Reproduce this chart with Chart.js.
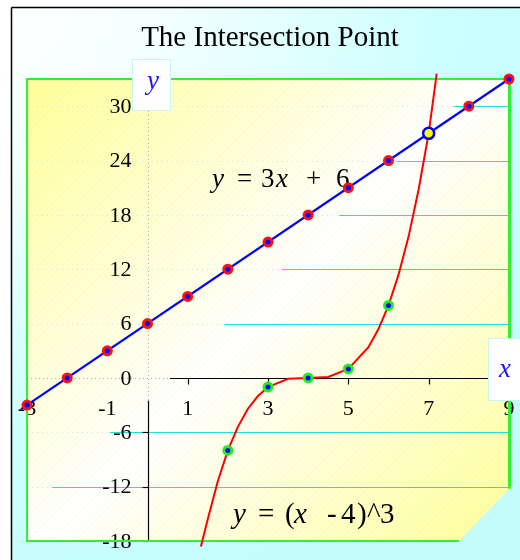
<!DOCTYPE html>
<html>
<head>
<meta charset="utf-8">
<title>The Intersection Point</title>
<script src="https://cdn.jsdelivr.net/npm/chart.js@4.4.1/dist/chart.umd.min.js"></script>
<style>
  html, body { margin: 0; padding: 0; background: #fff; }
  canvas { display: block; }
</style>
</head>
<body>
<canvas id="chart" width="520" height="560"></canvas>
<script>
// y = 3x + 6 (straight line, slightly past the end dots)
const lineEndsX = [-3.15, 9.1];
const lineEndsY = [-3.45, 33.3];
const lineDotsX = [-3, -2, -1, 0, 1, 2, 3, 4, 5, 6, 8, 9];
const lineDotsY = [-3, 0, 3, 6, 9, 12, 15, 18, 21, 24, 30, 33];

// y = (x - 4)^3
const curveX = [1.33, 1.5, 1.75, 2, 2.25, 2.5, 2.75, 3, 3.5, 4, 4.5, 5, 5.5, 5.75, 6, 6.25, 6.5, 6.75, 7, 7.2];
const curveY = [-18.6, -15.6, -11.4, -8, -5.4, -3.4, -2, -1, -0.1, 0, 0.1, 1, 3.4, 5.4, 8, 11.4, 15.6, 20.8, 27, 33.6];
const curveDotsX = [2, 3, 4, 5, 6];
const curveDotsY = [-8, -1, 0, 1, 8];

// intersection
const crossX = [7];
const crossY = [27];

const xTicks = [-3, -1, 1, 3, 5, 7, 9];
const yTicks = [-18, -12, -6, 0, 6, 12, 18, 24, 30];
const xMin = -3, xMax = 9;
const yMin = -18, yMax = 33;

const SERIF = '"Liberation Serif", "Times New Roman", serif';
const pts = (xs, ys) => xs.map((v, i) => ({ x: v, y: ys[i] }));

function drawTokens(ctx, tokens, baseline, size) {
  ctx.fillStyle = '#000';
  ctx.textAlign = 'left';
  ctx.textBaseline = 'alphabetic';
  tokens.forEach(([t, left, it]) => {
    ctx.font = (it ? 'italic ' : '') + size + 'px ' + SERIF;
    ctx.fillText(t, left, baseline);
  });
}

function line(ctx, x1, y1, x2, y2) {
  ctx.beginPath();
  ctx.moveTo(x1, y1);
  ctx.lineTo(x2, y2);
  ctx.stroke();
}

const decor = {
  id: 'decor',
  beforeDraw(chart) {
    const { ctx, chartArea: a, scales: { x, y } } = chart;
    const W = chart.width, H = chart.height;
    ctx.save();

    // outer frame
    ctx.fillStyle = '#fff';
    ctx.fillRect(0, 0, W, H);
    const bg = ctx.createRadialGradient(12, 8, 0, 12, 8, 620);
    bg.addColorStop(0, '#ffffff');
    bg.addColorStop(0.25, '#f2ffff');
    bg.addColorStop(0.7, '#ccffff');
    bg.addColorStop(1, '#c4fcfc');
    ctx.fillStyle = bg;
    ctx.fillRect(12, 8, W - 12, H - 8);
    ctx.strokeStyle = '#000';
    ctx.lineWidth = 1.5;
    line(ctx, 11.5, H, 11.5, 7.5);
    line(ctx, 11.5, 7.5, W, 7.5);

    // title
    ctx.fillStyle = '#000';
    ctx.font = '29px ' + SERIF;
    ctx.textAlign = 'center';
    ctx.textBaseline = 'alphabetic';
    ctx.fillText('The Intersection Point', 270, 46);

    // plot area with cut corner
    const cut = 50;
    const cutY = y.getPixelForValue(-12) + 2;
    ctx.beginPath();
    ctx.moveTo(a.left, a.top);
    ctx.lineTo(a.right, a.top);
    ctx.lineTo(a.right, cutY);
    ctx.lineTo(a.right - cut, a.bottom);
    ctx.lineTo(a.left, a.bottom);
    ctx.closePath();
    const pg = ctx.createLinearGradient(a.left, a.top, a.right, a.bottom);
    pg.addColorStop(0, '#ffff99');
    pg.addColorStop(0.5, '#ffffff');
    pg.addColorStop(1, '#ffff99');
    ctx.fillStyle = pg;
    ctx.fill();

    // faint hatching
    ctx.save();
    ctx.clip();
    ctx.strokeStyle = 'rgba(170,170,130,0.06)';
    ctx.lineWidth = 1;
    for (let k = a.left; k < a.right + a.bottom; k += 6) {
      line(ctx, k, a.top, k - (a.bottom - a.top), a.bottom);
    }
    ctx.restore();

    // faint dotted grid
    ctx.setLineDash([1, 4]);
    ctx.strokeStyle = '#c4ecec';
    ctx.lineWidth = 1;
    yTicks.forEach(v => {
      if (v === 0 || v === yMin) return;
      const py = Math.round(y.getPixelForValue(v)) + 0.5;
      line(ctx, a.left, py, a.right, py);
    });

    // cyan grid segments on the right
    ctx.setLineDash([]);
    ctx.strokeStyle = '#22dddd';
    yTicks.forEach(v => {
      if (v === 0 || v === yMin) return;
      const start = -0.94 + (v + 6) * 0.238;
      const py = Math.round(y.getPixelForValue(v)) + 0.5;
      line(ctx, x.getPixelForValue(start), py, a.right, py);
    });

    // axes: dotted upper / left parts, solid parts
    const x0 = Math.round(x.getPixelForValue(0)) + 0.5;
    const y0 = Math.round(y.getPixelForValue(0)) + 0.5;
    ctx.strokeStyle = '#aaaaaa';
    ctx.setLineDash([1, 3]);
    line(ctx, x0, a.top, x0, y.getPixelForValue(-2.5));
    line(ctx, a.left, y0, x.getPixelForValue(0.56), y0);
    ctx.setLineDash([]);
    ctx.strokeStyle = '#000';
    ctx.lineWidth = 1.2;
    line(ctx, x0, y.getPixelForValue(-2.5), x0, a.bottom);
    line(ctx, x.getPixelForValue(0.56), y0, x.getPixelForValue(8.6), y0);

    // tick marks
    xTicks.forEach(v => {
      if (v < 0.56 || v > 8.6) return;
      const px = Math.round(x.getPixelForValue(v)) + 0.5;
      line(ctx, px, y0, px, y0 + 6);
    });
    yTicks.forEach(v => {
      if (v > -2.5) return;
      const py = Math.round(y.getPixelForValue(v)) + 0.5;
      line(ctx, x0 - 6, py, x0, py);
    });

    // tick labels
    ctx.fillStyle = '#000';
    ctx.font = '22px ' + SERIF;
    ctx.textAlign = 'right';
    ctx.textBaseline = 'middle';
    yTicks.forEach(v => ctx.fillText(String(v), x0 - 17, y.getPixelForValue(v) + 1));
    ctx.textAlign = 'center';
    xTicks.forEach(v => ctx.fillText(String(v), x.getPixelForValue(v), y0 + 31));

    // green frame
    ctx.strokeStyle = '#33ee33';
    ctx.lineWidth = 2;
    ctx.beginPath();
    ctx.moveTo(a.right, a.top);
    ctx.lineTo(a.left, a.top);
    ctx.lineTo(a.left, a.bottom);
    ctx.lineTo(a.right - cut, a.bottom);
    ctx.stroke();
    ctx.lineWidth = 3;
    line(ctx, a.right + 0.5, a.top, a.right + 0.5, cutY);

    // equations
    drawTokens(ctx, [['y', 212, true], ['=', 237], ['3', 261], ['x', 276, true], ['+', 306], ['6', 336]], 187, 27);
    drawTokens(ctx, [['y', 233, true], ['=', 258], ['(', 285], ['x', 294, true], ['-', 327], ['4', 341], [')', 357], ['^', 367], ['3', 380]], 523, 29);

    ctx.restore();
  },
  afterDatasetsDraw(chart) {
    const { ctx } = chart;
    ctx.save();
    ctx.lineWidth = 1;
    ctx.strokeStyle = '#c8f4f4';
    ctx.fillStyle = '#ffffff';
    ctx.fillRect(132, 59, 39, 52);
    ctx.strokeRect(132.5, 59.5, 38, 51);
    ctx.fillRect(488, 338, 40, 63);
    ctx.strokeRect(488.5, 338.5, 40, 62);
    ctx.fillStyle = '#1a1aee';
    ctx.font = 'italic 27px ' + SERIF;
    ctx.textAlign = 'center';
    ctx.textBaseline = 'alphabetic';
    ctx.fillText('y', 153, 89);
    ctx.fillText('x', 505, 377);
    ctx.restore();
  }
};

new Chart(document.getElementById('chart'), {
  type: 'scatter',
  data: {
    datasets: [
      {
        data: pts(crossX, crossY),
        pointRadius: 5.5, pointBorderWidth: 2.5,
        pointBackgroundColor: '#ffff00', pointBorderColor: '#0000ff',
        showLine: false, clip: false
      },
      {
        data: pts(lineDotsX, lineDotsY),
        pointRadius: 4, pointBorderWidth: 3,
        pointBackgroundColor: '#0000ff', pointBorderColor: '#ff1111',
        showLine: false, clip: false
      },
      {
        data: pts(curveDotsX, curveDotsY),
        pointRadius: 4, pointBorderWidth: 3,
        pointBackgroundColor: '#0000ff', pointBorderColor: '#22ee22',
        showLine: false, clip: false
      },
      {
        data: pts(lineEndsX, lineEndsY),
        showLine: true, borderColor: '#0000ff', borderWidth: 2.2,
        pointRadius: 0, clip: false
      },
      {
        data: pts(curveX, curveY),
        showLine: true, borderColor: '#ff0000', borderWidth: 2,
        pointRadius: 0, tension: 0, clip: false
      }
    ]
  },
  options: {
    responsive: false,
    animation: false,
    events: [],
    layout: { padding: { left: 27, right: 11, top: 79, bottom: 19 } },
    plugins: { legend: { display: false }, tooltip: { enabled: false } },
    scales: {
      x: { type: 'linear', min: xMin, max: xMax, display: false },
      y: { type: 'linear', min: yMin, max: yMax, display: false }
    }
  },
  plugins: [decor]
});
</script>
</body>
</html>
